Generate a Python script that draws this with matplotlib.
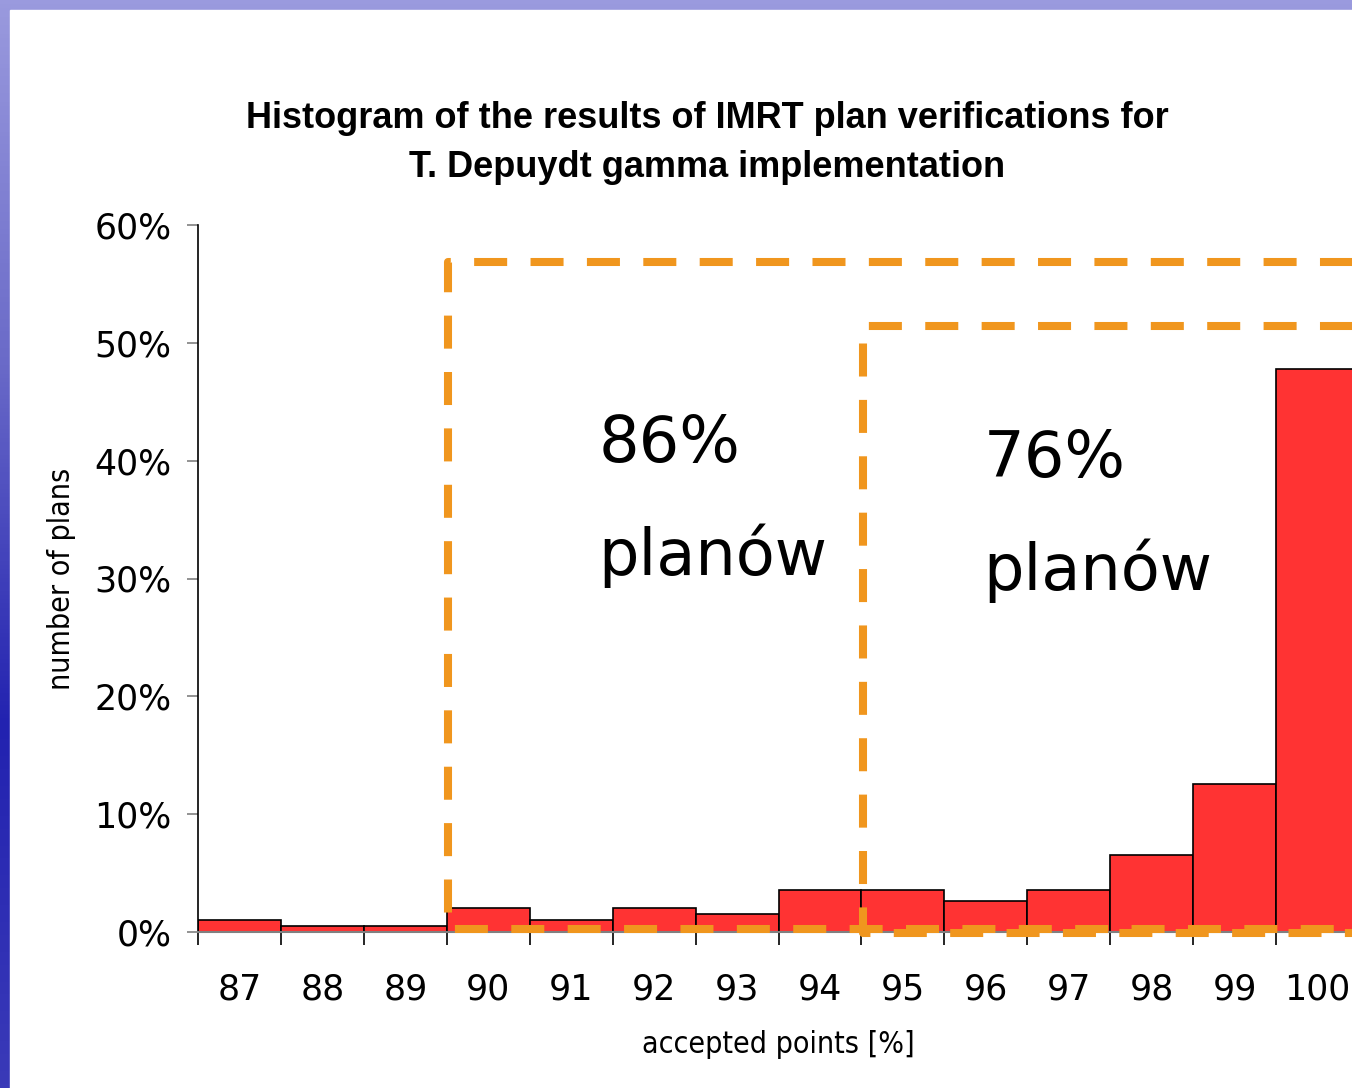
import numpy as np
import matplotlib
matplotlib.use('Agg')
import matplotlib.pyplot as plt
from matplotlib.patches import Rectangle
from matplotlib import font_manager

# data (share of plans, %)
categories = ['87', '88', '89', '90', '91', '92', '93', '94', '95', '96', '97', '98', '99', '100']
share = [1.0, 0.5, 0.5, 2.0, 1.0, 2.0, 1.5, 3.6, 3.6, 2.6, 3.6, 6.5, 12.6, 47.8]
yticks = [0, 10, 20, 30, 40, 50, 60]

# highlighted ranges: (first category index, top of box in %, bottom in %)
box_start = [3, 8]
box_top = [56.9, 51.4]
box_bottom = [0.25, -0.1]
box_text = [('86%', 'planów'), ('76%', 'planów')]

red = '#ff3333'
orange = '#f0961e'


def find_font(fname, size, **kw):
    for p in font_manager.findSystemFonts():
        if p.endswith(fname):
            return font_manager.FontProperties(fname=p, size=size)
    return font_manager.FontProperties(size=size, **kw)


title_font = find_font('LiberationSans-Bold.ttf', 26, family='Liberation Sans', weight='bold')
label_font = find_font('DejaVuSansCondensed.ttf', 21.7, family='DejaVu Sans')

fig = plt.figure(figsize=(13.52, 10.88), dpi=100)

# slide background: blue gradient frame with white body
bg = fig.add_axes([0, 0, 1, 1], zorder=-10)
grad = np.linspace(0, 1, 256).reshape(-1, 1)
cmap = matplotlib.colors.LinearSegmentedColormap.from_list('slide', ['#9a9ade', '#6a6ac8', '#2222b0', '#3a3ab8'])
bg.imshow(grad, aspect='auto', cmap=cmap, extent=[0, 1, 0, 1])
bg.add_patch(Rectangle((10 / 1352, 0), 1, 1 - 10 / 1088, color='white'))
bg.set_xlim(0, 1)
bg.set_ylim(0, 1)
bg.axis('off')

ax = fig.add_axes([198 / 1352, 156 / 1088, 1161 / 1352, 707 / 1088])
ax.set_facecolor('none')
x = np.arange(len(categories))
ax.bar(x, share, width=1.0, color=red, edgecolor='black', linewidth=1.2, zorder=2)

ax.set_xlim(-0.5, len(categories) - 0.5)
ax.set_ylim(0, 60)
ax.set_yticks(yticks)
ax.set_yticklabels(['%d%%' % v for v in yticks], fontsize=25)
ax.set_xticks(x)
ax.set_xticklabels(categories, fontsize=25)
ax.set_xticks(np.arange(len(categories) + 1) - 0.5, minor=True)
ax.tick_params(axis='x', which='major', length=0, pad=29)
ax.tick_params(axis='x', which='minor', length=9, width=1.2, color='black')
ax.tick_params(axis='y', length=8, width=1.2, color='#808080', pad=11)

for s in ['top', 'right']:
    ax.spines[s].set_visible(False)
ax.spines['left'].set_linewidth(1.2)
ax.spines['bottom'].set_color('#808080')
ax.spines['bottom'].set_linewidth(1.5)

ax.set_xlabel('accepted points [%]', fontproperties=label_font)
ax.set_ylabel('number of plans', fontproperties=label_font)
ax.yaxis.set_label_coords(-0.105, 0.5)
ax.xaxis.set_label_coords(0.5, -0.138)

# dashed boxes marking the accepted ranges
right = len(categories) + 1
for i in range(len(box_start)):
    x0 = box_start[i] - 0.48
    ax.plot([right, x0, x0, right], [box_top[i], box_top[i], box_bottom[i], box_bottom[i]],
            color=orange, linewidth=5.8, dashes=(4.1, 2.9), solid_capstyle='butt',
            dash_capstyle='butt', clip_on=False, zorder=3)

text_x = [4.33, 8.97]
text_y1 = [39.9, 38.6]
text_y2 = [30.3, 29.0]
for i in range(len(box_text)):
    ax.text(text_x[i], text_y1[i], box_text[i][0], fontsize=46, va='baseline', ha='left')
    ax.text(text_x[i], text_y2[i], box_text[i][1], fontsize=46, va='baseline', ha='left')

fig.text(0.523, 1 - 118 / 1088, 'Histogram of the results of IMRT plan verifications for',
         ha='center', va='center', fontproperties=title_font)
fig.text(0.523, 1 - 167 / 1088, 'T. Depuydt gamma implementation',
         ha='center', va='center', fontproperties=title_font)

plt.savefig('out.png', dpi=100)
